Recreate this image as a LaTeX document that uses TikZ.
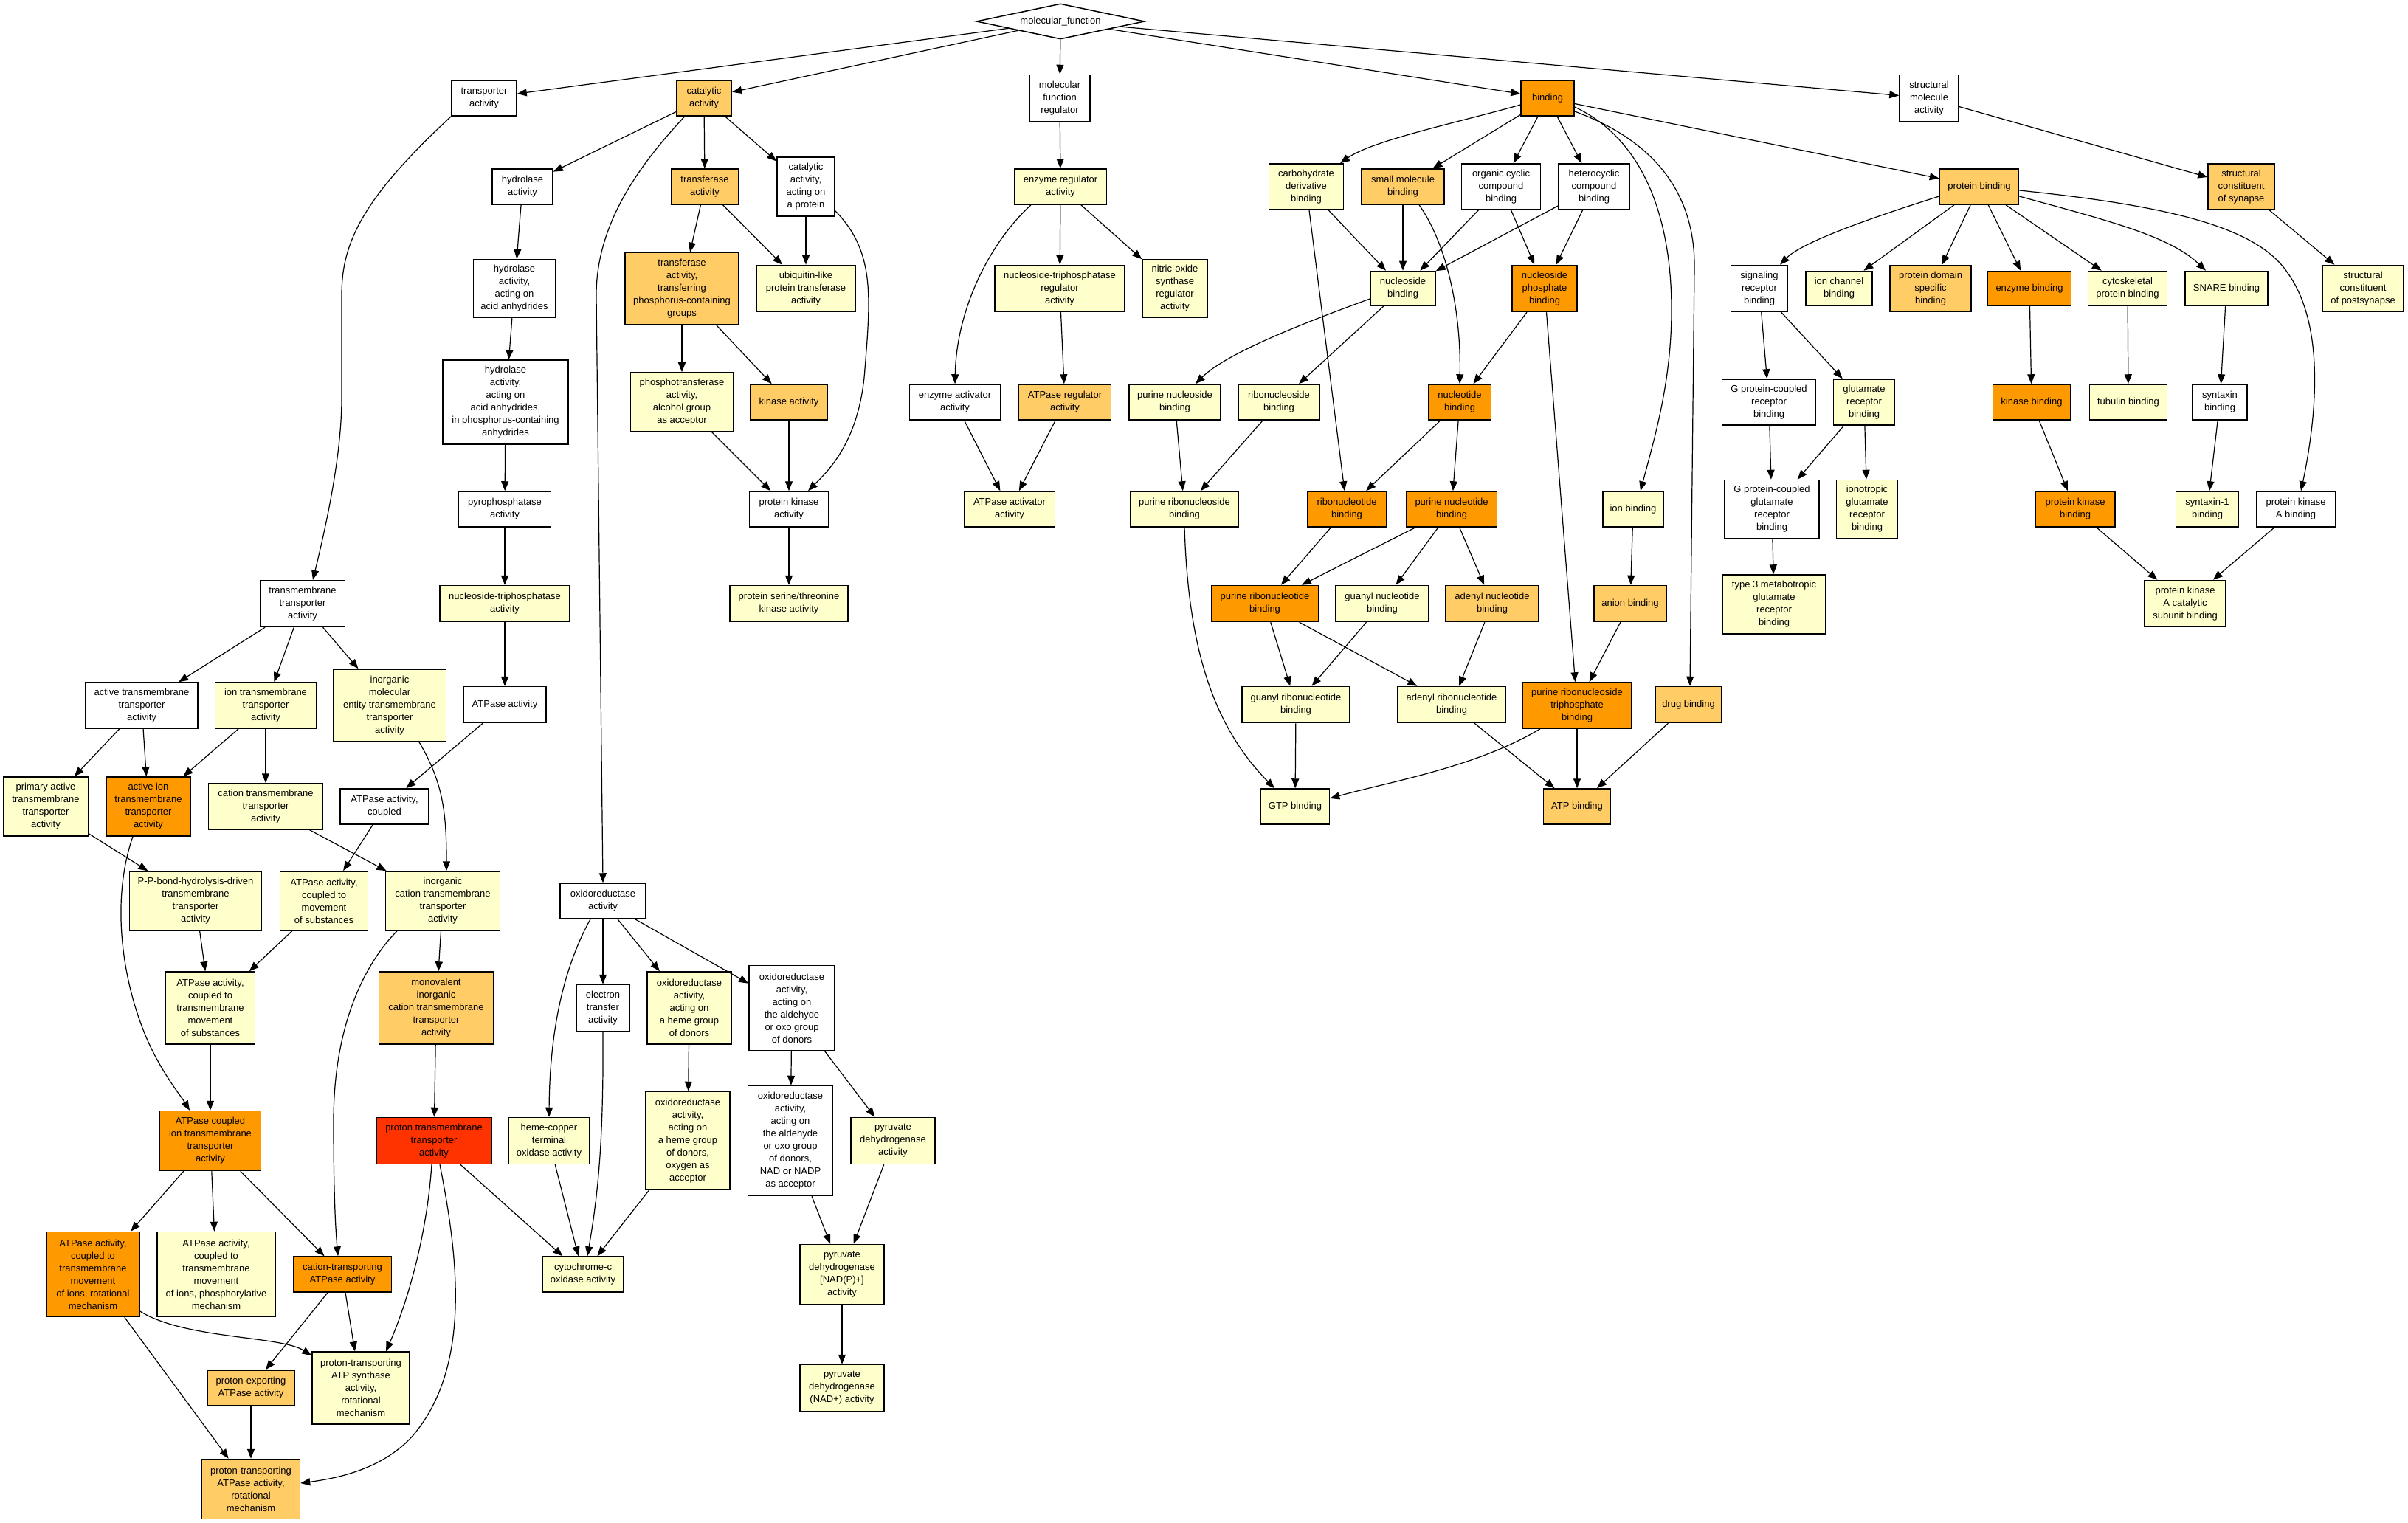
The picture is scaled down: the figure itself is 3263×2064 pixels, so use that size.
\documentclass[tikz,border=0pt]{standalone}
\usepackage{fontspec}
\setmainfont{Liberation Sans}
\usetikzlibrary{arrows.meta,shapes.geometric}
\definecolor{cw}{HTML}{FFFFFF}
\definecolor{cy}{HTML}{FFFFCC}
\definecolor{co}{HTML}{FFCC66}
\definecolor{cor}{HTML}{FF9900}
\definecolor{cr}{HTML}{FF3300}
\newcommand{\gofont}{\fontsize{6.5pt}{8.5pt}\selectfont}
\newcommand{\gon}[7]{\node[gobox,fill=#6,minimum width=#4*0.5pt,minimum height=#5*0.5pt] (#1) at (#2,#3) {#7};}
\newcommand{\goe}[2]{\draw[goedge] (#1) -- (#2);}
\begin{document}
\begin{tikzpicture}[x=0.5pt,y=-0.5pt,
  gobox/.style={draw=black,line width=0.75pt,rectangle,inner sep=0pt,align=center,font=\gofont},
  goedge/.style={draw=black,line width=0.6pt,-{Triangle[length=6.5pt,width=5pt]}}]
\useasboundingbox (0,0) rectangle (3263,2064);
\fill[white] (0,0) rectangle (3263,2064);
% root
\node[diamond,draw=black,line width=0.75pt,fill=white,aspect=4.75,inner sep=0pt,minimum width=114pt,minimum height=24pt,font=\gofont] (mf) at (1437,29) {molecular\_function};
% row 1
\gon{tra}{656}{133}{88}{48}{cw}{transporter\\activity}
\gon{cat}{954}{133}{75}{48}{co}{catalytic\\activity}
\gon{mfr}{1436}{133}{82}{63}{cw}{molecular\\function\\regulator}
\gon{bind}{2097}{133}{72}{48}{cor}{binding}
\gon{sma}{2614}{133}{80}{63}{cw}{structural\\molecule\\activity}
% row 2
\gon{hyd}{708}{253}{82}{48}{cw}{hydrolase\\activity}
\gon{trf}{955}{253}{91}{48}{co}{transferase\\activity}
\gon{catp}{1092}{253}{78}{80}{cw}{catalytic\\activity,\\acting on\\a protein}
\gon{enzreg}{1437}{253}{125}{48}{cy}{enzyme regulator\\activity}
\gon{carb}{1770}{253}{101}{62}{cy}{carbohydrate\\derivative\\binding}
\gon{smb}{1901}{253}{112}{48}{co}{small molecule\\binding}
\gon{occ}{2034}{253}{107}{62}{cw}{organic cyclic\\compound\\binding}
\gon{hcc}{2160}{253}{96}{62}{cw}{heterocyclic\\compound\\binding}
\gon{pb}{2682}{253}{107}{48}{co}{protein binding}
\gon{scs}{3037}{253}{90}{62}{co}{structural\\constituent\\of synapse}
% row 3
\gon{hydaa}{697}{391}{111}{79}{cw}{hydrolase\\activity,\\acting on\\acid anhydrides}
\gon{trfp}{924}{391}{154}{97}{co}{transferase\\activity,\\transferring\\phosphorus-containing\\groups}
\gon{ubq}{1092}{391}{134}{63}{cy}{ubiquitin-like\\protein transferase\\activity}
\gon{ntpreg}{1436}{391}{176}{63}{cy}{nucleoside-triphosphatase\\regulator\\activity}
\gon{nos}{1592}{391}{88}{79}{cy}{nitric-oxide\\synthase\\regulator\\activity}
\gon{nucb}{1901}{391}{88}{47}{cy}{nucleoside\\binding}
\gon{nphb}{2093}{391}{88}{63}{cor}{nucleoside\\phosphate\\binding}
\gon{srb}{2384}{391}{77}{63}{cw}{signaling\\receptor\\binding}
\gon{icb}{2492}{391}{90}{47}{cy}{ion channel\\binding}
\gon{pdsb}{2616}{391}{110}{63}{co}{protein domain\\specific\\binding}
\gon{enzb}{2750}{391}{113}{47}{cor}{enzyme binding}
\gon{cpb}{2883}{391}{107}{47}{cy}{cytoskeletal\\protein binding}
\gon{snare}{3017}{391}{112}{47}{cy}{SNARE binding}
\gon{scp}{3202}{391}{110}{63}{cy}{structural\\constituent\\of postsynapse}
% row 4
\gon{hydpc}{685}{545}{170}{114}{cw}{hydrolase\\activity,\\acting on\\acid anhydrides,\\in phosphorus-containing\\anhydrides}
\gon{phos}{924}{545}{139}{80}{cy}{phosphotransferase\\activity,\\alcohol group\\as acceptor}
\gon{kin}{1069}{545}{104}{48}{co}{kinase activity}
\gon{enzact}{1294}{545}{123}{48}{cw}{enzyme activator\\activity}
\gon{atpreg}{1443}{545}{125}{48}{co}{ATPase regulator\\activity}
\gon{purnuc}{1592}{545}{124}{48}{cy}{purine nucleoside\\binding}
\gon{ribnuc}{1733}{545}{110}{48}{cy}{ribonucleoside\\binding}
\gon{ntb}{1978}{545}{85}{48}{cor}{nucleotide\\binding}
\gon{gpcr}{2397}{545}{127}{62}{cw}{G protein-coupled\\receptor\\binding}
\gon{grb}{2526}{545}{83}{62}{cy}{glutamate\\receptor\\binding}
\gon{kb}{2753}{545}{105}{48}{cor}{kinase binding}
\gon{tub}{2884}{545}{105}{48}{cy}{tubulin binding}
\gon{syn}{3008}{545}{74}{48}{cw}{syntaxin\\binding}
% row 5
\gon{pyro}{684}{690}{125}{48}{cw}{pyrophosphatase\\activity}
\gon{pka}{1069}{690}{107}{48}{cw}{protein kinase\\activity}
\gon{atpact}{1368}{690}{123}{48}{cy}{ATPase activator\\activity}
\gon{purribnuc}{1605}{690}{146}{48}{cy}{purine ribonucleoside\\binding}
\gon{ribnt}{1825}{690}{107}{48}{cor}{ribonucleotide\\binding}
\gon{purnt}{1967}{690}{123}{48}{cor}{purine nucleotide\\binding}
\gon{ionb}{2213}{690}{82}{48}{cy}{ion binding}
\gon{gpcgr}{2401}{690}{128}{79}{cw}{G protein-coupled\\glutamate\\receptor\\binding}
\gon{igrb}{2530}{690}{83}{79}{cy}{ionotropic\\glutamate\\receptor\\binding}
\gon{pkb}{2812}{690}{108}{48}{cor}{protein kinase\\binding}
\gon{syn1}{2991}{690}{85}{48}{cy}{syntaxin-1\\binding}
\gon{pkab}{3111}{690}{107}{48}{cw}{protein kinase\\A binding}
% row 6
\gon{tmt}{410}{818}{115}{63}{cw}{transmembrane\\transporter\\activity}
\gon{ntpase}{684}{818}{176}{49}{cy}{nucleoside-triphosphatase\\activity}
\gon{pstk}{1069}{818}{160}{49}{cy}{protein serine/threonine\\kinase activity}
\gon{purrnt}{1714}{818}{145}{49}{cor}{purine ribonucleotide\\binding}
\gon{gnb}{1873}{818}{126}{49}{cy}{guanyl nucleotide\\binding}
\gon{anb}{2022}{818}{126}{49}{co}{adenyl nucleotide\\binding}
\gon{anion}{2209}{818}{98}{49}{co}{anion binding}
\gon{t3m}{2404}{819}{140}{80}{cy}{type 3 metabotropic\\glutamate\\receptor\\binding}
\gon{pkac}{2961}{818}{110}{63}{cy}{protein kinase\\A catalytic\\subunit binding}
% row 7
\gon{atta}{192}{956}{152}{62}{cw}{active transmembrane\\transporter\\activity}
\gon{itta}{360}{956}{137}{62}{cy}{ion transmembrane\\transporter\\activity}
\gon{imetta}{528}{956}{153}{98}{cy}{inorganic\\molecular\\entity transmembrane\\transporter\\activity}
\gon{atpase}{684}{955}{112}{49}{cw}{ATPase activity}
\gon{grnb}{1756}{955}{146}{49}{cy}{guanyl ribonucleotide\\binding}
\gon{arnb}{1967}{955}{147}{49}{cy}{adenyl ribonucleotide\\binding}
\gon{prtb}{2137}{956}{147}{62}{cor}{purine ribonucleoside\\triphosphate\\binding}
\gon{drug}{2288}{955}{90}{49}{co}{drug binding}
% row 8
\gon{pat}{62}{1093}{115}{80}{cy}{primary active\\transmembrane\\transporter\\activity}
\gon{aita}{201}{1093}{114}{80}{cor}{active ion\\transmembrane\\transporter\\activity}
\gon{ctta}{360}{1093}{155}{62}{cy}{cation transmembrane\\transporter\\activity}
\gon{atpc}{521}{1093}{120}{48}{cw}{ATPase activity,\\coupled}
\gon{gtp}{1755}{1093}{93}{48}{cy}{GTP binding}
\gon{atp}{2137}{1093}{91}{48}{co}{ATP binding}
% row 9
\gon{ppb}{265}{1221}{179}{80}{cy}{P-P-bond-hydrolysis-driven\\transmembrane\\transporter\\activity}
\gon{atpcms}{439}{1221}{119}{80}{cy}{ATPase activity,\\coupled to\\movement\\of substances}
\gon{icta}{600}{1221}{155}{80}{cy}{inorganic\\cation transmembrane\\transporter\\activity}
\gon{oxr}{817}{1221}{116}{48}{cw}{oxidoreductase\\activity}
% row 10
\gon{atpctm}{285}{1366}{121}{98}{cy}{ATPase activity,\\coupled to\\transmembrane\\movement\\of substances}
\gon{mict}{591}{1366}{155}{98}{co}{monovalent\\inorganic\\cation transmembrane\\transporter\\activity}
\gon{eta}{817}{1366}{72}{63}{cw}{electron\\transfer\\activity}
\gon{oxh}{934}{1366}{114}{98}{cy}{oxidoreductase\\activity,\\acting on\\a heme group\\of donors}
\gon{oxa}{1073}{1366}{116}{115}{cw}{oxidoreductase\\activity,\\acting on\\the aldehyde\\or oxo group\\of donors}
% row 11
\gon{atpcit}{285}{1546}{137}{81}{cor}{ATPase coupled\\ion transmembrane\\transporter\\activity}
\gon{ptta}{588}{1546}{156}{63}{cr}{proton transmembrane\\transporter\\activity}
\gon{hco}{744}{1546}{110}{63}{cy}{heme-copper\\terminal\\oxidase activity}
\gon{oxho}{932}{1546}{114}{133}{cy}{oxidoreductase\\activity,\\acting on\\a heme group\\of donors,\\oxygen as\\acceptor}
\gon{oxan}{1071}{1546}{115}{149}{cw}{oxidoreductase\\activity,\\acting on\\the aldehyde\\or oxo group\\of donors,\\NAD or NADP\\as acceptor}
\gon{pdh}{1210}{1546}{114}{63}{cy}{pyruvate\\dehydrogenase\\activity}
% row 12
\gon{atprot}{126}{1727}{126}{115}{cor}{ATPase activity,\\coupled to\\transmembrane\\movement\\of ions, rotational\\mechanism}
\gon{atpphos}{293}{1727}{160}{115}{cy}{ATPase activity,\\coupled to\\transmembrane\\movement\\of ions, phosphorylative\\mechanism}
\gon{ctatp}{464}{1727}{133}{48}{cor}{cation-transporting\\ATPase activity}
\gon{cco}{790}{1727}{109}{48}{cy}{cytochrome-c\\oxidase activity}
\gon{pdhnp}{1141}{1727}{114}{81}{cy}{pyruvate\\dehydrogenase\\{[NAD(P)+]}\\activity}
% row 13
\gon{pexp}{340}{1881}{118}{48}{co}{proton-exporting\\ATPase activity}
\gon{ptatps}{489}{1881}{132}{98}{cy}{proton-transporting\\ATP synthase\\activity,\\rotational\\mechanism}
\gon{pdhn}{1141}{1881}{114}{63}{cy}{pyruvate\\dehydrogenase\\(NAD+) activity}
% row 14
\gon{ptatpr}{340}{2018}{133}{81}{co}{proton-transporting\\ATPase activity,\\rotational\\mechanism}

% ---------- straight edges ----------
\goe{mf}{tra}\goe{mf}{cat}\goe{mf}{mfr}\goe{mf}{bind}\goe{mf}{sma}
\goe{cat}{hyd}\goe{cat}{trf}\goe{cat}{catp}
\goe{hyd}{hydaa}\goe{hydaa}{hydpc}\goe{hydpc}{pyro}\goe{pyro}{ntpase}\goe{ntpase}{atpase}\goe{atpase}{atpc}\goe{atpc}{atpcms}\goe{atpcms}{atpctm}
\goe{trf}{trfp}\goe{trf}{ubq}\goe{catp}{ubq}\goe{trfp}{phos}\goe{trfp}{kin}\goe{phos}{pka}\goe{kin}{pka}\goe{pka}{pstk}
\goe{mfr}{enzreg}\goe{enzreg}{ntpreg}\goe{enzreg}{nos}\goe{ntpreg}{atpreg}\goe{enzact}{atpact}\goe{atpreg}{atpact}
\goe{bind}{smb}\goe{bind}{occ}\goe{bind}{hcc}\goe{bind}{pb}
\goe{carb}{nucb}\goe{carb}{ribnt}\goe{smb}{nucb}\goe{occ}{nucb}\goe{occ}{nphb}\goe{hcc}{nucb}\goe{hcc}{nphb}
\goe{nucb}{ribnuc}\goe{nphb}{ntb}\goe{nphb}{prtb}
\goe{purnuc}{purribnuc}\goe{ribnuc}{purribnuc}
\goe{ntb}{ribnt}\goe{ntb}{purnt}\goe{ribnt}{purrnt}\goe{purnt}{purrnt}\goe{purnt}{gnb}\goe{purnt}{anb}
\goe{purrnt}{grnb}\goe{purrnt}{arnb}\goe{gnb}{grnb}\goe{anb}{arnb}\goe{grnb}{gtp}\goe{arnb}{atp}\goe{prtb}{atp}\goe{drug}{atp}
\goe{ionb}{anion}\goe{anion}{prtb}
\goe{pb}{icb}\goe{pb}{pdsb}\goe{pb}{enzb}\goe{pb}{cpb}
\goe{srb}{gpcr}\goe{srb}{grb}\goe{gpcr}{gpcgr}\goe{grb}{gpcgr}\goe{grb}{igrb}\goe{gpcgr}{t3m}
\goe{enzb}{kb}\goe{kb}{pkb}\goe{cpb}{tub}\goe{snare}{syn}\goe{syn}{syn1}\goe{pkb}{pkac}\goe{pkab}{pkac}
\goe{sma}{scs}\goe{scs}{scp}
\goe{tmt}{atta}\goe{tmt}{itta}\goe{tmt}{imetta}\goe{atta}{pat}\goe{atta}{aita}\goe{itta}{aita}\goe{itta}{ctta}
\goe{pat}{ppb}\goe{ctta}{icta}\goe{ppb}{atpctm}\goe{icta}{mict}\goe{atpctm}{atpcit}\goe{mict}{ptta}
\goe{atpcit}{atprot}\goe{atpcit}{atpphos}\goe{atpcit}{ctatp}\goe{ptta}{cco}\goe{atprot}{ptatpr}\goe{ctatp}{pexp}\goe{ctatp}{ptatps}\goe{pexp}{ptatpr}
\goe{oxr}{eta}\goe{oxr}{oxh}\goe{oxr}{oxa}\goe{hco}{cco}\goe{oxh}{oxho}\goe{oxho}{cco}\goe{oxa}{oxan}\goe{oxa}{pdh}\goe{oxan}{pdhnp}\goe{pdh}{pdhnp}\goe{pdhnp}{pdhn}

% ---------- curved edges ----------
\draw[goedge] (tra.south west) .. controls (490,270) and (463,330) .. (463,400) -- (463,540) .. controls (463,620) and (440,720) .. ([xshift=7pt]tmt.north);
\draw[goedge] ([xshift=6pt]cat.south west) .. controls (870,220) and (808,300) .. (808,400) -- (oxr.north);
\draw[goedge] ([yshift=4pt]catp.south east) .. controls (1185,340) and (1180,400) .. (1172,500) .. controls (1165,600) and (1120,640) .. ([xshift=13pt]pka.north);
\draw[goedge] ([xshift=-20pt]enzreg.south) .. controls (1340,330) and (1296,420) .. (enzact.north);
\draw[goedge] ([yshift=-4.5pt]bind.west) .. controls (1980,165) and (1860,190) .. ([xshift=23pt]carb.north);
\draw[goedge] ([xshift=11pt]smb.south) .. controls (1960,330) and (1980,420) .. (ntb.north);
\draw[goedge] ([yshift=-6pt]bind.east) .. controls (2230,190) and (2265,300) .. (2265,420) .. controls (2265,520) and (2240,600) .. ([xshift=5pt]ionb.north);
\draw[goedge] ([yshift=-9pt]bind.east) .. controls (2240,190) and (2296,260) .. (2296,360) -- ([xshift=1pt]drug.north);
\draw[goedge] ([yshift=-6.5pt]pb.west) .. controls (2520,300) and (2440,330) .. ([xshift=14pt]srb.north);
\draw[goedge] ([yshift=-2.5pt]pb.east) .. controls (2950,280) and (3060,310) .. (3100,370) .. controls (3150,440) and (3140,560) .. ([xshift=3.5pt]pkab.north);
\draw[goedge] ([yshift=-6.5pt]pb.east) .. controls (2860,300) and (2940,320) .. ([xshift=-14pt]snare.north);
\draw[goedge] ([yshift=-7pt]nucb.west) .. controls (1760,440) and (1660,480) .. ([xshift=14pt]purnuc.north);
\draw[goedge] (purribnuc.south) .. controls (1610,870) and (1640,980) .. ([xshift=-14pt]gtp.north);
\draw[goedge] ([xshift=-25pt]prtb.south) .. controls (2000,1040) and (1880,1060) .. ([yshift=5.5pt]gtp.east);
\draw[goedge] ([xshift=20pt]imetta.south) .. controls (600,1060) and (605,1100) .. ([xshift=2.5pt]icta.north);
\draw[goedge] ([xshift=-10.5pt]aita.south) .. controls (150,1220) and (165,1330) .. (200,1410) .. controls (220,1455) and (245,1485) .. ([xshift=-14pt]atpcit.north);
\draw[goedge] ([xshift=-31pt]icta.south) .. controls (500,1300) and (452,1380) .. (452,1520) .. controls (452,1620) and (455,1670) .. ([xshift=-3pt]ctatp.north);
\draw[goedge] ([xshift=-1.5pt]ptta.south) .. controls (578,1680) and (550,1770) .. ([xshift=17pt]ptatps.north);
\draw[goedge] ([xshift=4pt]ptta.south) .. controls (620,1700) and (640,1850) .. (560,1945) .. controls (520,1990) and (460,2003) .. ([yshift=4pt]ptatpr.east);
\draw[goedge] ([yshift=-25pt]atprot.east) .. controls (250,1815) and (380,1810) .. ([yshift=22pt]ptatps.west);
\draw[goedge] ([xshift=-8.5pt]oxr.south) .. controls (770,1300) and (745,1380) .. (hco.north);
\draw[goedge] (eta.south) .. controls (818,1550) and (810,1620) .. ([xshift=3pt]cco.north);
\end{tikzpicture}
\end{document}
